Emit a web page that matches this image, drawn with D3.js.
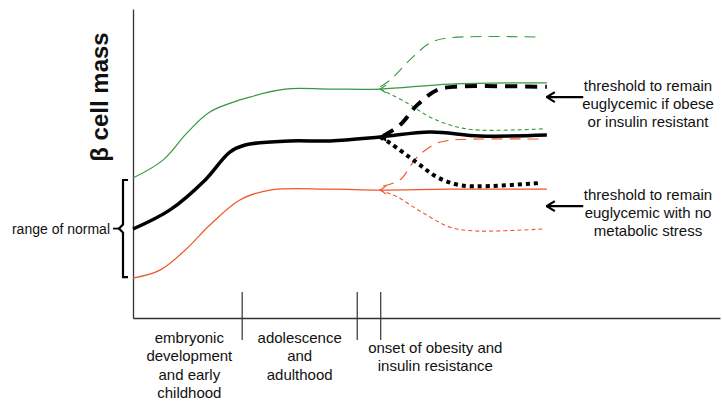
<!DOCTYPE html>
<html lang="en">
  <head>
    <meta charset="UTF-8" />
    <script src="https://d3js.org/d3.v7.min.js"></script>
    <title>Beta cell mass schematic</title>
    <style type="text/css">
      body {
        margin: 0;
        background: #fff;
      }
      text {
        font-family: 'Liberation Sans', Arial, sans-serif;
        fill: #111;
      }
      .note,
      .phase {
        font-size: 15px;
      }
      .range-label {
        font-size: 14px;
      }
      .y-label {
        font-size: 24px;
        font-weight: bold;
      }
    </style>
  </head>
  <body>
    <svg width="722" height="407"></svg>
  </body>
  <script type="text/javascript">
    // schematic units: time 0-100 along x, beta cell mass 0-100 along y
    const greenSolid = [[0, 45.3], [5.1, 51.1], [9.2, 59.9], [13.1, 66.7], [19.9, 71.5], [25.9, 74.1], [33.6, 74.1], [42.1, 74.1], [54.0, 75.7], [70.5, 76.1]];
    const blackSolid = [[0, 28.8], [6.3, 35.0], [12.3, 44.7], [16.5, 53.7], [19.1, 56.0], [26.7, 57.3], [33.6, 57.3], [42.1, 58.6], [50.6, 60.2], [59.1, 58.9], [70.5, 59.2]];
    const orangeSolid = [[0, 12.9], [4.6, 15.5], [8.9, 22.0], [13.1, 30.1], [18.2, 38.2], [23.3, 41.4], [33.6, 41.7], [42.1, 41.4], [54.0, 41.7], [70.5, 41.7]];

    const greenUp = [[42.1, 74.8], [43.8, 77.0], [47.7, 84.5], [50.6, 89.0], [53.5, 90.6], [69.8, 90.9]];
    const greenDown = [[42.1, 74.1], [46.7, 69.6], [50.6, 65.0], [55.2, 61.8], [59.1, 60.8], [69.8, 61.2]];
    const blackUp = [[42.6, 58.9], [45.5, 62.5], [48.4, 68.9], [51.8, 73.8], [54.5, 74.8], [70.5, 74.8]];
    const blackDown = [[42.1, 58.6], [43.8, 56.6], [48.4, 50.2], [51.8, 45.6], [55.7, 43.0], [60.8, 42.7], [69.3, 43.7]];
    const orangeUp = [[42.6, 42.7], [45.5, 44.7], [48.4, 52.1], [51.8, 56.6], [54.5, 57.6], [69.8, 57.9]];
    const orangeDown = [[42.1, 41.4], [45.0, 39.2], [49.4, 34.0], [54.0, 29.4], [57.9, 28.2], [69.8, 28.8]];

    const phaseTicks = [18.6, 38.2, 42.2];
    const phaseLabels = [
      { x: 9.6, lines: ['embryonic', 'development', 'and early', 'childhood'] },
      { x: 28.4, lines: ['adolescence', 'and', 'adulthood'] },
      { x: 51.5, lines: ['onset of obesity and', 'insulin resistance'], drop: 10 },
    ];
    const thresholds = [
      { y: 71.5, lines: ['threshold to remain', 'euglycemic if obese', 'or insulin resistant'] },
      { y: 36.2, lines: ['threshold to remain', 'euglycemic with no', 'metabolic stress'] },
    ];
    const normalRange = [12.9, 45.3];

    const green = '#35993f';
    const orange = '#f0562a';

    const svg = d3.select('svg');

    const x = d3.scaleLinear().domain([0, 100]).range([133, 720]);
    const y = d3.scaleLinear().domain([0, 100]).range([318, 9]);

    const line = d3
      .line()
      .x((d) => x(d[0]))
      .y((d) => y(d[1]))
      .curve(d3.curveCatmullRom.alpha(0.5));

    // axes, no tick labels
    svg
      .append('g')
      .attr('transform', `translate(0, ${y(0)})`)
      .call(d3.axisBottom(x).tickValues([]).tickSizeOuter(0))
      .select('.domain')
      .attr('stroke', '#333')
      .attr('stroke-width', 1.3);
    svg
      .append('g')
      .attr('transform', `translate(${x(0)}, 0)`)
      .call(d3.axisLeft(y).tickValues([]).tickSizeOuter(0))
      .select('.domain')
      .attr('stroke', '#333')
      .attr('stroke-width', 1.3);

    // phase boundaries cross the x axis
    svg
      .selectAll('.phase-tick')
      .data(phaseTicks)
      .enter()
      .append('line')
      .attr('x1', (d) => x(d))
      .attr('x2', (d) => x(d))
      .attr('y1', y(0) - 26)
      .attr('y2', y(0) + 22)
      .attr('stroke', '#333')
      .attr('stroke-width', 1.2);

    // left-pointing chevron at the start of the falling branches
    const defs = svg.append('defs');
    [['chev-green', green, 'none'], ['chev-orange', orange, 'none'], ['chev-black', '#000', '#000']].forEach(([id, c, f]) => {
      defs
        .append('marker')
        .attr('id', id)
        .attr('markerUnits', 'userSpaceOnUse')
        .attr('markerWidth', 10)
        .attr('markerHeight', 10)
        .attr('refX', 1)
        .attr('refY', 4)
        .attr('orient', 0)
        .append('path')
        .attr('d', 'M7,0 L1,4 L7,8')
        .attr('fill', f)
        .attr('stroke', c)
        .attr('stroke-width', 1.1);
    });
    defs
      .append('marker')
      .attr('id', 'arrow')
      .attr('markerUnits', 'userSpaceOnUse')
      .attr('markerWidth', 14)
      .attr('markerHeight', 14)
      .attr('refX', 1)
      .attr('refY', 6)
      .attr('orient', 0)
      .append('path')
      .attr('d', 'M9,1 L1,6 L9,11')
      .attr('fill', 'none')
      .attr('stroke', '#000')
      .attr('stroke-width', 2.2);

    const curves = [
      { data: greenUp, color: green, width: 1.1, dash: '11,7' },
      { data: greenDown, color: green, width: 1.1, dash: '4,3', marker: 'chev-green' },
      { data: orangeUp, color: orange, width: 1.1, dash: '11,7' },
      { data: orangeDown, color: orange, width: 1.1, dash: '4,3', marker: 'chev-orange' },
      { data: greenSolid, color: green, width: 1.2 },
      { data: orangeSolid, color: orange, width: 1.2 },
      { data: blackUp, color: '#000', width: 4, dash: '12,8' },
      { data: blackDown, color: '#000', width: 4, dash: '4,4', marker: 'chev-black' },
      { data: blackSolid, color: '#000', width: 3.5 },
    ];

    svg
      .selectAll('.curve')
      .data(curves)
      .enter()
      .append('path')
      .attr('class', 'curve')
      .attr('d', (d) => line(d.data))
      .attr('fill', 'none')
      .attr('stroke', (d) => d.color)
      .attr('stroke-width', (d) => d.width)
      .attr('stroke-dasharray', (d) => d.dash || null)
      .attr('marker-start', (d) => (d.marker ? `url(#${d.marker})` : null));

    // threshold annotations on the right
    thresholds.forEach((t) => {
      svg
        .append('line')
        .attr('x1', x(76.7))
        .attr('x2', x(70.5))
        .attr('y1', y(t.y))
        .attr('y2', y(t.y))
        .attr('stroke', '#000')
        .attr('stroke-width', 2.2)
        .attr('marker-end', 'url(#arrow)');
      const txt = svg
        .append('text')
        .attr('class', 'note')
        .attr('text-anchor', 'middle')
        .attr('x', 648)
        .attr('y', y(t.y) - 6);
      t.lines.forEach((l, i) => {
        txt
          .append('tspan')
          .attr('x', 648)
          .attr('dy', i === 0 ? 0 : 18)
          .text(l);
      });
    });

    // phase labels under the x axis
    phaseLabels.forEach((p) => {
      const txt = svg
        .append('text')
        .attr('class', 'phase')
        .attr('text-anchor', 'middle')
        .attr('y', 343 + (p.drop || 0));
      p.lines.forEach((l, i) => {
        txt
          .append('tspan')
          .attr('x', x(p.x))
          .attr('dy', i === 0 ? 0 : 18.3)
          .text(l);
      });
    });

    // range of normal brace
    const yTop = y(normalRange[1]) + 2;
    const yBot = y(normalRange[0]) - 1;
    const yMid = (yTop + yBot) / 2;
    svg
      .append('path')
      .attr('d', `M128,${yTop} H123 V${yMid - 4} L119,${yMid} L123,${yMid + 4} V${yBot} H128`)
      .attr('fill', 'none')
      .attr('stroke', '#000')
      .attr('stroke-width', 2.2);
    svg
      .append('line')
      .attr('x1', 113)
      .attr('x2', 119)
      .attr('y1', yMid)
      .attr('y2', yMid)
      .attr('stroke', '#000')
      .attr('stroke-width', 1.8);
    svg
      .append('text')
      .attr('class', 'range-label')
      .attr('text-anchor', 'end')
      .attr('x', 110)
      .attr('y', yMid + 5)
      .text('range of normal');

    // y axis label
    svg
      .append('text')
      .attr('class', 'y-label')
      .attr('text-anchor', 'middle')
      .attr('transform', `translate(108, 97) rotate(-90)`)
      .text('β cell mass');
  </script>
</html>
